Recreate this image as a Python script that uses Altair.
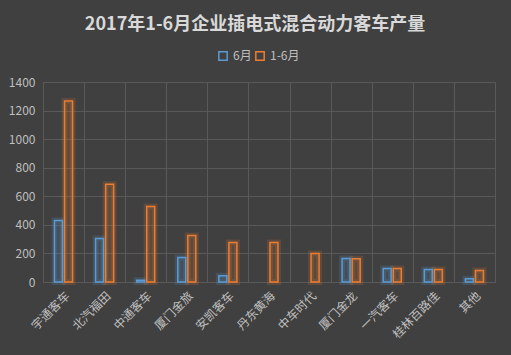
import altair as alt
import pandas as pd

companies = ["宇通客车", "北汽福田", "中通客车", "厦门金旅", "安凯客车", "丹东黄海",
             "中车时代", "厦门金龙", "一汽客车", "桂林百路佳", "其他"]
june = [431, 304, 12, 171, 44, 0, 0, 165, 94, 87, 23]
jan_jun = [1267, 684, 529, 326, 276, 276, 199, 163, 94, 87, 80]
series = ["6月", "1-6月"]
y_ticks = [0, 200, 400, 600, 800, 1000, 1200, 1400]

rows = []
for c, a, b in zip(companies, june, jan_jun):
    rows.append({"company": c, "series": series[0], "value": a})
    rows.append({"company": c, "series": series[1], "value": b})
df = pd.DataFrame(rows)

FONT = "Noto Sans CJK SC"
colors = ["#5b9bd5", "#ed7d31"]

x_enc = alt.X("company:N", sort=companies, title=None,
              scale=alt.Scale(paddingInner=0, paddingOuter=0),
              axis=alt.Axis(labelAngle=-45, labelColor="#bfbfbf", labelFontSize=12,
                            labelFont=FONT, labelPadding=8, domain=False, ticks=False,
                            grid=True, gridColor="#595959", gridWidth=1,
                            tickBand="extent", labelOverlap=False))
xo_enc = alt.XOffset("series:N", sort=series,
                     scale=alt.Scale(range=[11.3, 29.7], paddingInner=0.175, paddingOuter=0))
y_enc = alt.Y("value:Q", title=None,
              scale=alt.Scale(domain=[0, 1400], nice=False),
              axis=alt.Axis(values=y_ticks, format="d", labelColor="#bfbfbf", labelFontSize=12,
                            labelFont=FONT, labelPadding=8, domain=False, ticks=False,
                            grid=True, gridColor="#595959", gridWidth=1))
fill_enc = alt.Fill("series:N", sort=series,
                    scale=alt.Scale(domain=series, range=colors), legend=None)
stroke_enc = alt.Stroke("series:N", sort=series,
                        scale=alt.Scale(domain=series, range=colors),
                        legend=alt.Legend(title=None, orient="none", direction="horizontal",
                                          legendX=174, legendY=-32, symbolType="square",
                                          symbolSize=70, symbolFillColor="transparent",
                                          symbolStrokeWidth=1.5, gridAlign="none",
                                          labelColor="#bfbfbf", labelFontSize=12,
                                          labelFont=FONT, columnPadding=0, labelOffset=4))

base = alt.Chart(df).transform_filter("datum.value > 0")

glow = base.mark_bar(strokeWidth=6, strokeOpacity=0.18, fillOpacity=0.14,
                     size=8).encode(x=x_enc, xOffset=xo_enc, y=y_enc,
                                    fill=fill_enc,
                                    stroke=alt.Stroke("series:N", sort=series,
                                                      scale=alt.Scale(domain=series, range=colors),
                                                      legend=None))
bars = base.mark_bar(strokeWidth=1.5, fill="transparent", size=8).encode(
    x=x_enc, xOffset=xo_enc, y=y_enc, stroke=stroke_enc)

chart = alt.layer(glow, bars).resolve_legend(stroke="independent").properties(
    width=452, height=200,
    background="#404040",
    padding={"left": 43, "top": 82, "right": 16, "bottom": 73},
    autosize=alt.AutoSizeParams(type="none"),
    title=alt.TitleParams("2017年1-6月企业插电式混合动力客车产量", font=FONT,
                          fontSize=18, fontWeight="bold", color="#d9d9d9",
                          anchor="middle", offset=16, dx=-14),
).configure_view(stroke="#595959", strokeWidth=1)

chart.save("out.html", embed_options={"renderer": "svg", "actions": False})
